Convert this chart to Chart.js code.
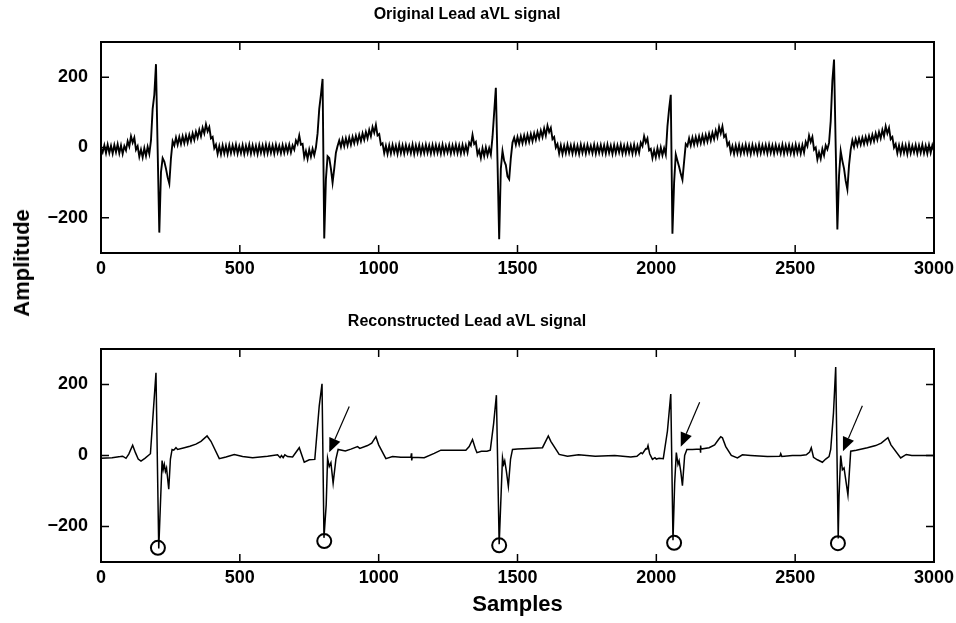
<!DOCTYPE html>
<html>
<head>
<meta charset="utf-8">
<script src="https://cdn.jsdelivr.net/npm/chart.js@4.4.0/dist/chart.umd.min.js"></script>
<style>
body { margin: 0; background: #fff; }
#wrap { position: relative; width: 956px; height: 623px; }
#c1 { position: absolute; left: 0; top: 0; }
#c2 { position: absolute; left: 0; top: 300px; }
#ylab {
    position: absolute; left: 22px; top: 263px;
    transform: translate(-50%, -50%) rotate(-90deg);
    font: bold 22px 'Liberation Sans', Arial, sans-serif;
    white-space: nowrap;
}
</style>
</head>
<body>
<div id="wrap">
    <canvas id="c1" width="956" height="300"></canvas>
    <canvas id="c2" width="956" height="323"></canvas>
    <div id="ylab">Amplitude</div>
</div>
<script>
//---------------------------- data ----------------------------
// original lead (noisy), one value every STEP samples
const STEP = 6;
const topY = [
    -2,-14,6,-16,8,-15,5,-17,7,-13,9,-16,6,-18,4,-8,18,3,32,14,28,-6,4,-26,-6,-28,-2,-24,2,-18,20,110,150,237,-5,-242,-70,-30,-40,-60,-85,-103,-30,18,6,28,8,30,10,32,
    12,34,14,36,18,40,22,45,28,50,32,56,40,66,46,58,26,30,-2,8,-18,4,-19,6,-17,5,-18,7,-16,6,-15,8,-17,4,-16,7,-18,5,-15,8,-17,6,-16,5,-18,7,-15,6,-17,8,
    -16,7,-15,6,-17,8,-14,5,-16,7,-15,6,-13,8,-14,6,-6,20,10,34,8,10,-28,-10,-32,-6,-26,-4,-22,0,40,110,150,195,-259,-90,-25,-30,-60,-100,-60,-15,4,20,2,24,4,26,6,28,
    8,30,12,33,14,36,18,40,22,44,26,50,32,58,42,64,34,38,8,12,-16,5,-18,6,-17,7,-15,5,-18,8,-16,6,-17,7,-14,5,-16,8,-18,6,-15,7,-17,5,-16,8,-15,6,-17,7,
    -16,7,-15,6,-17,8,-16,5,-14,7,-17,6,-15,8,-16,6,-17,7,-15,6,-14,14,6,36,10,16,-20,-8,-30,-2,-24,0,-22,-2,-20,30,100,170,-40,-261,-60,-10,-38,-50,-82,-90,-30,14,28,8,
    30,10,32,12,34,14,36,16,38,18,40,22,44,26,48,30,54,34,62,44,56,24,30,0,10,-17,6,-18,5,-16,8,-15,6,-17,7,-16,5,-18,8,-15,6,-17,7,-14,5,-16,8,-17,6,-15,
    7,-16,6,-17,8,-15,5,-18,7,-16,6,-14,8,-17,5,-16,7,-15,6,-17,8,-16,5,-15,14,4,32,14,26,-8,-4,-30,-8,-28,-2,-24,0,-22,-2,-20,60,110,150,-245,-100,-20,-38,-55,-75,-92,
    -40,10,4,26,6,28,8,30,10,32,12,34,14,36,17,39,20,42,24,48,30,58,40,60,30,36,6,14,-14,4,-18,6,-16,7,-17,5,-15,8,-16,6,-18,7,-15,5,-17,8,-16,6,-14,7,
    -16,8,-15,6,-17,7,-14,5,-16,8,-17,6,-15,7,-16,5,-18,8,-15,6,-17,7,-14,16,4,34,16,30,-6,0,-34,-14,-32,-4,-22,6,-5,13,75,190,250,0,-233,-80,-10,-38,-60,-95,-119,-50,
    -6,20,2,24,6,26,8,28,10,30,12,33,15,36,18,40,22,44,26,50,32,60,40,56,24,30,0,10,-16,6,-17,7,-15,6,-18,8,-16,5,-14,7,-17,6,-15,8,-16,5,-17,7,-15,6,-10
];

// reconstructed lead
const botX = [0,40,70,78,90,100,114,124,134,144,158,178,188,198,208,220,224,228,232,236,244,250,256,262,270,276,300,320,342,360,382,396,426,450,480,510,546,600,636,645,650,656,662,672,690,714,732,750,770,786,796,803,811,816,822,828,836,846,854,880,900,924,932,960,975,990,1000,1026,1050,1080,1116,1118,1119,1121,1164,1200,1224,1314,1326,1338,1348,1354,1370,1390,1402,1414,1424,1434,1446,1450,1454,1460,1467,1475,1482,1500,1540,1590,1611,1620,1650,1680,1720,1780,1850,1908,1930,1945,1950,1962,1966,1970,1976,1986,1995,2000,2010,2025,2040,2052,2060,2066,2072,2078,2082,2088,2094,2102,2110,2130,2158,2159,2160,2161,2190,2210,2224,2232,2238,2250,2270,2292,2310,2340,2400,2445,2448,2452,2490,2520,2540,2552,2558,2566,2580,2598,2610,2622,2628,2638,2646,2655,2658,2664,2670,2676,2690,2700,2720,2760,2790,2810,2834,2845,2880,2900,2920,3000];
const botY = [-8,-6,-3,-2,-8,4,29,8,-10,-16,-8,5,120,233,-262,-14,-40,-25,-45,-35,-95,-10,17,15,22,17,22,26,32,40,55,40,-9,-4,3,-3,-6,-2,2,-6,0,-6,2,-3,-4,22,-19,-12,-11,140,202,-232,-139,-8,-31,-20,-78,-10,17,13,18,25,20,28,35,53,30,-9,-3,-5,-5,6,-14,-5,-6,6,15,15,25,45,20,8,12,12,15,90,170,-250,-6,-25,-15,-45,-87,-10,17,18,20,22,55,40,3,-2,2,-2,0,-4,-2,8,5,19,18,28,5,-11,-6,-10,-8,-9,69,173,-239,-78,8,-25,-15,-45,-85,0,17,17,18,8,28,18,22,30,45,53,50,25,0,-7,2,0,-3,-2,5,-3,0,0,2,10,22,-5,-12,-19,-10,-3,17,120,249,-234,-115,0,-40,-35,-111,12,15,22,28,35,50,30,-7,3,0,0];

// marked S troughs
const circX = [205, 804, 1434, 2064, 2654];
const circY = [-260, -241, -253, -246, -247];

// arrows (tail -> tip)
const arrowTailX = [894, 2156, 2742];
const arrowTailY = [138, 150, 140];
const arrowTipX = [822, 2088, 2672];
const arrowTipY = [9, 25, 12];

const xTicks = [0, 500, 1000, 1500, 2000, 2500, 3000];
const yTicks = [-200, 0, 200];

Chart.defaults.font.family = "'Liberation Sans', Arial, sans-serif";
Chart.defaults.color = '#000';

//---------------------------- plugins ----------------------------
const framePlugin = {
    id: 'frame',
    afterDraw(chart) {
        const { ctx, chartArea: a, scales } = chart;
        ctx.save();
        ctx.strokeStyle = '#000';
        ctx.lineWidth = 1.5;
        ctx.beginPath();
        xTicks.forEach(v => {
            const p = scales.x.getPixelForValue(v);
            ctx.moveTo(p, a.bottom); ctx.lineTo(p, a.bottom - 8);
            ctx.moveTo(p, a.top); ctx.lineTo(p, a.top + 8);
        });
        yTicks.forEach(v => {
            const p = scales.y.getPixelForValue(v);
            ctx.moveTo(a.left, p); ctx.lineTo(a.left + 8, p);
            ctx.moveTo(a.right, p); ctx.lineTo(a.right - 8, p);
        });
        ctx.stroke();
        ctx.lineWidth = 2;
        ctx.strokeRect(a.left, a.top, a.right - a.left, a.bottom - a.top);
        ctx.restore();
    }
};

const arrowPlugin = {
    id: 'arrows',
    afterDatasetsDraw(chart) {
        const { ctx, scales: { x, y } } = chart;
        ctx.save();
        ctx.strokeStyle = '#000';
        ctx.fillStyle = '#000';
        ctx.lineWidth = 1.2;
        arrowTipX.forEach((tx, i) => {
            const x0 = x.getPixelForValue(arrowTailX[i]), y0 = y.getPixelForValue(arrowTailY[i]);
            const x1 = x.getPixelForValue(tx), y1 = y.getPixelForValue(arrowTipY[i]);
            const ang = Math.atan2(y1 - y0, x1 - x0);
            const hl = 14, hw = 6;
            const bx = x1 - hl * Math.cos(ang), by = y1 - hl * Math.sin(ang);
            ctx.beginPath();
            ctx.moveTo(x0, y0); ctx.lineTo(bx, by);
            ctx.stroke();
            ctx.beginPath();
            ctx.moveTo(x1, y1);
            ctx.lineTo(bx + hw * Math.sin(ang), by - hw * Math.cos(ang));
            ctx.lineTo(bx - hw * Math.sin(ang), by + hw * Math.cos(ang));
            ctx.closePath();
            ctx.fill();
        });
        ctx.restore();
    }
};

function makeScales(xHeight, xTitle) {
    return {
        x: {
            type: 'linear', min: 0, max: 3000,
            afterBuildTicks: s => { s.ticks = xTicks.map(v => ({ value: v })); },
            afterFit: s => { s.height = xHeight; s.paddingLeft = 0; s.paddingRight = 0; },
            grid: { display: false, drawTicks: false },
            border: { display: false },
            ticks: {
                font: { size: 18, weight: 'bold' }, padding: 5,
                maxRotation: 0, autoSkip: false,
                callback: v => String(v),
            },
            title: xTitle,
        },
        y: {
            min: -300, max: 300,
            afterBuildTicks: s => { s.ticks = yTicks.map(v => ({ value: v })); },
            afterFit: s => { s.width = 101; s.paddingTop = 0; s.paddingBottom = 0; },
            grid: { display: false, drawTicks: false },
            border: { display: false },
            ticks: {
                font: { size: 18, weight: 'bold' }, padding: 13,
                callback: v => (v < 0 ? '\u2212' + (-v) : String(v)),
            },
        },
    };
}

//---------------------------- gráfico 1 ----------------------------
const ctx1 = document.getElementById('c1');
const chartTop = new Chart(ctx1, {
    type: 'line',
    data: {
        datasets: [{
            data: topY.map((v, i) => ({ x: i * STEP, y: v })),
            borderColor: '#000',
            borderWidth: 1.9,
            pointRadius: 0,
            tension: 0,
        }]
    },
    options: {
        responsive: false,
        animation: false,
        events: [],
        layout: { padding: { left: 0, right: 22, top: 0, bottom: 0 } },
        plugins: {
            legend: { display: false },
            tooltip: { enabled: false },
            title: {
                display: true,
                text: 'Original Lead aVL signal',
                font: { size: 16, weight: 'bold' },
                padding: { top: 5.4, bottom: 17.4 },
            },
        },
        scales: makeScales(47, { display: false }),
    },
    plugins: [framePlugin]
});

//---------------------------- gráfico 2 ----------------------------
const ctx2 = document.getElementById('c2');
const chartBot = new Chart(ctx2, {
    type: 'line',
    data: {
        datasets: [{
            data: botX.map((v, i) => ({ x: v, y: botY[i] })),
            borderColor: '#000',
            borderWidth: 1.5,
            pointRadius: 0,
            tension: 0,
        }, {
            data: circX.map((v, i) => ({ x: v, y: circY[i] })),
            showLine: false,
            pointStyle: 'circle',
            pointRadius: 7,
            pointBorderWidth: 2,
            pointBorderColor: '#000',
            pointBackgroundColor: 'rgba(0,0,0,0)',
        }]
    },
    options: {
        responsive: false,
        animation: false,
        events: [],
        layout: { padding: { left: 0, right: 22, top: 0, bottom: 0 } },
        plugins: {
            legend: { display: false },
            tooltip: { enabled: false },
            title: {
                display: true,
                text: 'Reconstructed Lead aVL signal',
                font: { size: 16, weight: 'bold' },
                padding: { top: 12.4, bottom: 17.4 },
            },
        },
        scales: makeScales(61, {
            display: true,
            text: 'Samples',
            font: { size: 22, weight: 'bold' },
            padding: { top: 0, bottom: 4.8 },
        }),
    },
    plugins: [framePlugin, arrowPlugin]
});
</script>
</body>
</html>
